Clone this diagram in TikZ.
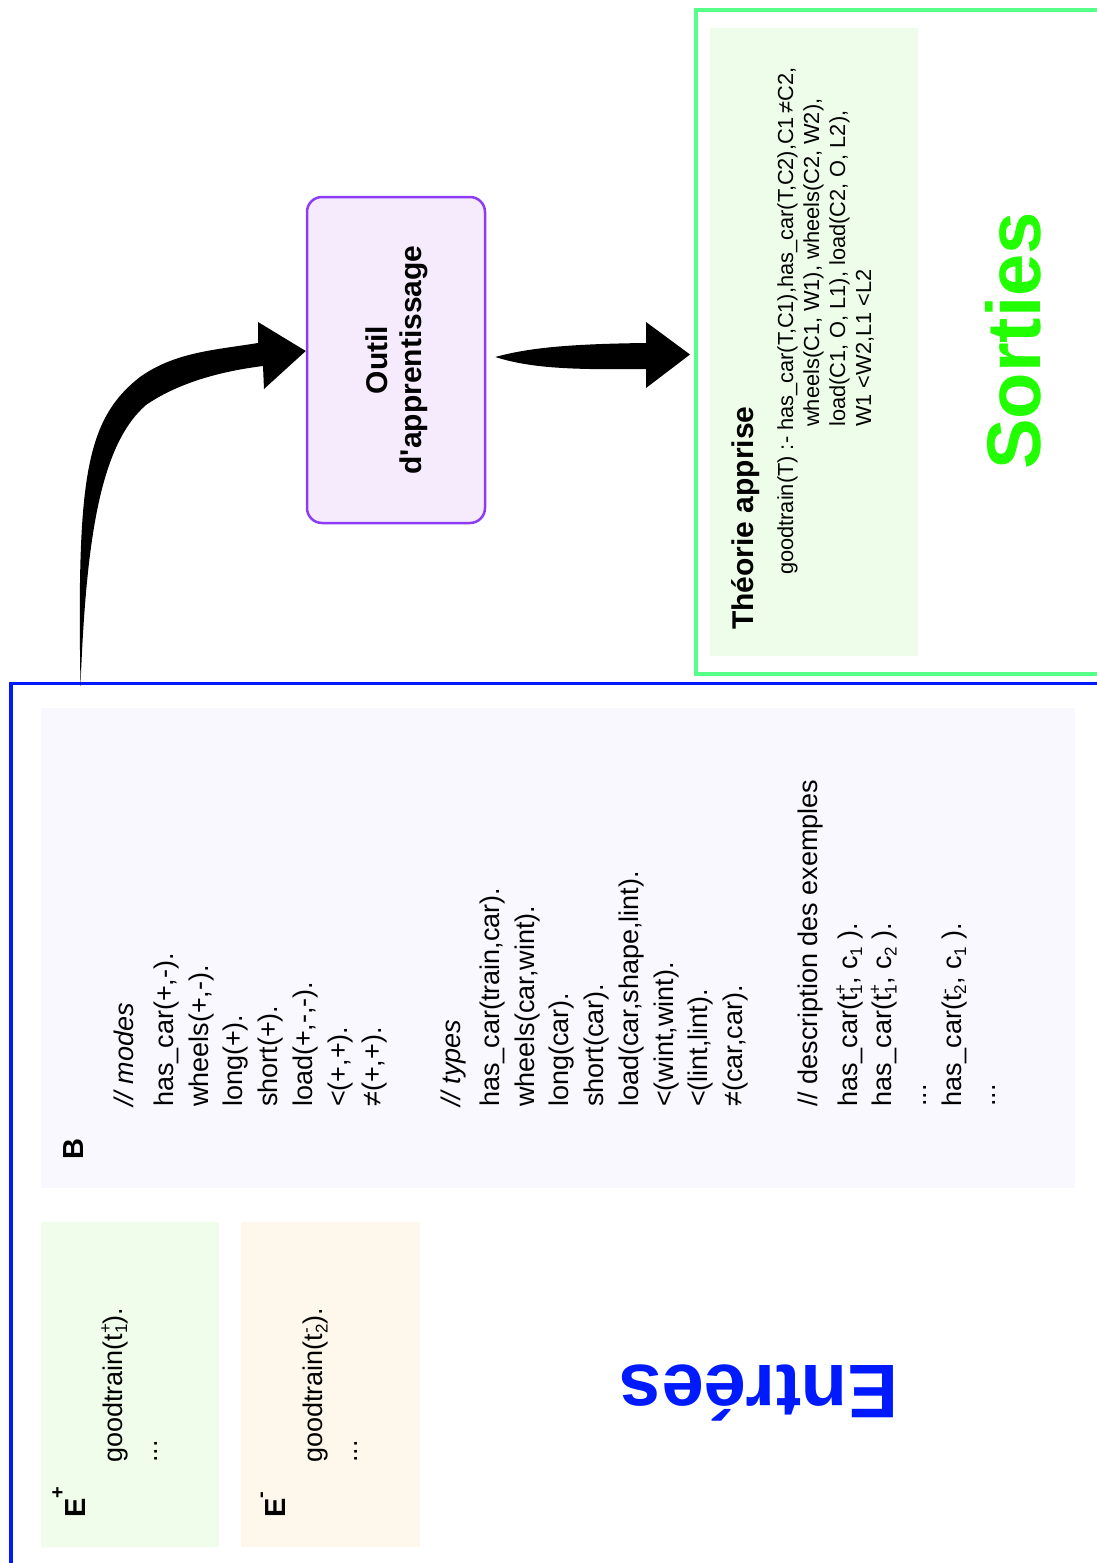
\documentclass[tikz,border=0pt]{standalone}
\usepackage{fontspec}
\setmainfont{Liberation Sans}
\newfontfamily\arial{Liberation Sans}
\usetikzlibrary{calc}
\definecolor{bluefr}{RGB}{0,26,255}
\definecolor{greenfr}{RGB}{85,255,136}
\definecolor{sortiesc}{RGB}{34,255,0}
\definecolor{theofill}{RGB}{238,253,233}
\definecolor{epfill}{RGB}{239,253,234}
\definecolor{emfill}{RGB}{254,247,235}
\definecolor{bfill}{RGB}{248,248,254}
\definecolor{toolfill}{RGB}{245,235,253}
\definecolor{toolstroke}{RGB}{140,60,245}
\newcommand\tsup[2]{\rlap{\raisebox{11pt}{\fontsize{17}{17}\selectfont #1}}\raisebox{-5pt}{\fontsize{17}{17}\selectfont #2}}
\tikzset{
  vtxt/.style={rotate=90, anchor=base west, inner sep=0pt, font=\arial\fontsize{27}{34}\selectfont},
  vital/.style={vtxt, font=\arial\itshape\fontsize{27}{34}\selectfont},
  vlab/.style={vtxt, font=\arial\bfseries\fontsize{29}{33}\selectfont},
  thtxt/.style={vtxt, font=\arial\fontsize{21.8}{26}\selectfont},
  panel/.style={draw=none, inner sep=0pt, anchor=north west},
  frame/.style={draw, fill=none, inner sep=0pt, anchor=north west},
  toolbox/.style={draw=toolstroke, fill=toolfill, line width=2.5pt, rounded corners=15pt,
    minimum width=178pt, minimum height=326pt, inner sep=0pt,
    font=\arial\bfseries\fontsize{30}{34}\selectfont},
  bigtitle/.style={inner sep=0pt, anchor=base, font=\arial\bfseries\fontsize{76}{80}\selectfont},
  arrowfill/.style={fill=black}
}
\begin{document}
\begin{tikzpicture}[x=1pt,y=-1pt]
\useasboundingbox (0,0) rectangle (1096,1563);

% frames
\node[frame, draw=greenfr, line width=4pt, minimum width=406pt, minimum height=664pt] (outframe) at (694,8) {};
\node[frame, draw=bluefr, line width=3.5pt, minimum width=1091pt, minimum height=886pt] (inframe) at (9,681.5) {};

% panels
\node[panel, fill=theofill, minimum width=208pt, minimum height=628pt] (theo) at (710,28) {};
\node[panel, fill=bfill, minimum width=1034pt, minimum height=480pt] (B) at (41,708) {};
\node[panel, fill=epfill, minimum width=178pt, minimum height=325pt] (Ep) at (41,1222) {};
\node[panel, fill=emfill, minimum width=179pt, minimum height=325pt] (Em) at (241,1222) {};

% tool box
\node[toolbox] (tool) at (396,360) {\hspace*{4pt}\rotatebox{90}{\begin{tabular}{@{}c@{}}Outil\\d'apprentissage\end{tabular}}};

% theory text
\node[vtxt, font=\arial\bfseries\fontsize{30}{33}\selectfont] (theot) at (753,630) {Théorie apprise};
\node[thtxt] (th1) at (793,575) {goodtrain(T) :- has\_car(T,C1),has\_car(T,C2),C1\,≠C2,};
\node[thtxt] (th2) at (819,427) {wheels(C1, W1), wheels(C2, W2),};
\node[thtxt] (th3) at (845,427) {load(C1, O, L1), load(C2, O, L2),};
\node[thtxt] (th4) at (871,427) {W1 <W2,L1 <L2};

% titles
\node[bigtitle, rotate=90, anchor=base west, text=sortiesc] (sorties) at (1040,470) {Sorties};
\node[bigtitle, rotate=180, text=bluefr] (entrees) at (759,1365) {Entrées};

% B panel
\node[vlab] (Blab) at (83,1160) {B};
\node[vital] (m0) at (133.5,1107) {// modes};
\node[vtxt] (m1) at (173.5,1107) {has\_car(+,-).};
\node[vtxt] (m2) at (208.2,1107) {wheels(+,-).};
\node[vtxt] (m3) at (242.9,1107) {long(+).};
\node[vtxt] (m4) at (277.6,1107) {short(+).};
\node[vtxt] (m5) at (312.3,1107) {load(+,-,-).};
\node[vtxt] (m6) at (347,1107) {<(+,+).};
\node[vtxt] (m7) at (381.7,1107) {≠(+,+).};

\node[vital] (t0) at (460,1107) {// types};
\node[vtxt] (t1) at (499.5,1107) {has\_car(train,car).};
\node[vtxt] (t2) at (534.2,1107) {wheels(car,wint).};
\node[vtxt] (t3) at (568.9,1107) {long(car).};
\node[vtxt] (t4) at (603.6,1107) {short(car).};
\node[vtxt] (t5) at (638.3,1107) {load(car,shape,lint).};
\node[vtxt] (t6) at (673,1107) {<(wint,wint).};
\node[vtxt] (t7) at (707.7,1107) {<(lint,lint).};
\node[vtxt] (t8) at (742.4,1107) {≠(car,car).};

\node[vtxt] (d0) at (817,1107) {// description des exemples};
\node[vtxt] (d1) at (857,1107) {has\_car(t\tsup{+}{1}, c\tsup{}{1} ).};
\node[vtxt] (d2) at (891.7,1107) {has\_car(t\tsup{+}{1}, c\tsup{}{2} ).};
\node[vtxt] (d3) at (926.4,1107) {...};
\node[vtxt] (d4) at (961.1,1107) {has\_car(t\tsup{-}{2}, c\tsup{}{1} ).};
\node[vtxt] (d5) at (995.8,1107) {...};

% E panels
\node[vlab] (Eplab) at (85,1518) {E\raisebox{21pt}{\fontsize{20}{20}\selectfont +}};
\node[vtxt] (ep1) at (122,1463) {goodtrain(t\tsup{+}{1}).};
\node[vtxt] (ep2) at (157,1463) {...};
\node[vlab] (Emlab) at (285,1518) {E\raisebox{18pt}{\fontsize{20}{20}\selectfont -}};
\node[vtxt] (em1) at (322.5,1463) {goodtrain(t\tsup{-}{2}).};
\node[vtxt] (em2) at (357,1463) {...};

% arrows
\coordinate (a1s) at (80.5,686);
\coordinate (a1t) at ($(tool.west)+(0,-9)$);
\fill[arrowfill] (a1s) .. controls (77,480) and (85,420) .. (140,377)
  .. controls (175,352) and (215,350) .. (258,343) -- (258,322) -- (a1t) -- (264,389) -- (263,366)
  .. controls (215,372) and (175,385) .. (146,405)
  .. controls (100,445) and (86,540) .. (a1s) -- cycle;

\coordinate (a2s) at ($(tool.east)+(9,-3)$);
\coordinate (a2t) at ($(outframe.west)+(-4,12.5)$);
\fill[arrowfill] (a2s) .. controls (525,349) and (560,344) .. (646,343) -- (646,322) -- (a2t)
  -- (646,388) -- (646,369) .. controls (570,370) and (530,368) .. (a2s) -- cycle;
\end{tikzpicture}
\end{document}
